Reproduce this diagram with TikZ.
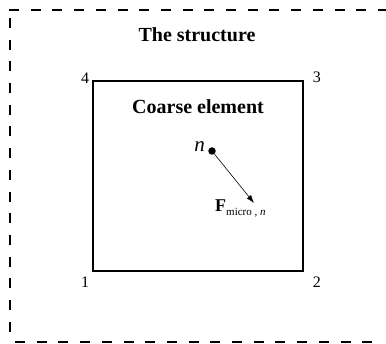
\documentclass[tikz,border=0pt]{standalone}
\usepackage{fontspec}
\setmainfont{Liberation Serif}
\usetikzlibrary{arrows.meta,positioning}
\tikzset{
structline/.style={line width=1.8pt, dash pattern=on 10pt off 11.7pt},
elembox/.style={draw, line width=1.3pt, minimum width=210pt, minimum height=190pt, inner sep=0pt},
cornerlabel/.style={font=\fontsize{16}{18}\selectfont, inner sep=1pt},
titlelabel/.style={font=\fontsize{20}{24}\selectfont\bfseries, inner sep=0pt},
nodedot/.style={circle, fill, inner sep=0pt, minimum size=7.5pt},
forcearrow/.style={-{Latex[length=8pt,width=5.5pt]}, line width=0.6pt}
}
\begin{document}
\begin{tikzpicture}[x=1pt,y=-1pt]
\useasboundingbox (0,0) rectangle (386,344);

% ── Structure boundary (open on the right) ─────────────────────
\coordinate (sTL) at (9,10);
\coordinate (sTR) at (386,10);
\coordinate (sL1) at (10,18);
\coordinate (sL2) at (10,340);
\coordinate (sBL) at (15,342);
\coordinate (sBR) at (378,342);
\draw[structline] (sTL) -- (sTR);
\draw[structline] (sL1) -- (sL2);
\draw[structline] (sBL) -- (sBR);
\node[titlelabel] (struct) at (197,35) {The structure};

% ── Coarse element and its corner numbers ──────────────────────
\node[elembox] (elem) at (198,176) {};
\node[titlelabel,below=19pt of elem.north] (elemtitle) {Coarse element};
\node[cornerlabel,above left=-4pt and 2pt of elem.north west] (c4) {4};
\node[cornerlabel,above right=-4pt and 8pt of elem.north east] (c3) {3};
\node[cornerlabel,below left=4pt and 2pt of elem.south west] (c1) {1};
\node[cornerlabel,below right=4pt and 8pt of elem.south east] (c2) {2};

% ── Micro force at point n ─────────────────────────────────────
\node[nodedot] (n) at (212,151) {};
\node[font=\fontsize{21}{24}\selectfont\itshape, inner sep=1pt, left=2pt of n, yshift=4pt] (nlabel) {n};
\coordinate (tip) at (254,203);
\draw[forcearrow] (n) -- (tip);
\node[anchor=base west, inner sep=0pt] (F) at (215,212)
 {\fontsize{18}{20}\selectfont\bfseries F\raisebox{-4pt}{\fontsize{11}{12}\selectfont\mdseries micro , \itshape n}};
\end{tikzpicture}
\end{document}
